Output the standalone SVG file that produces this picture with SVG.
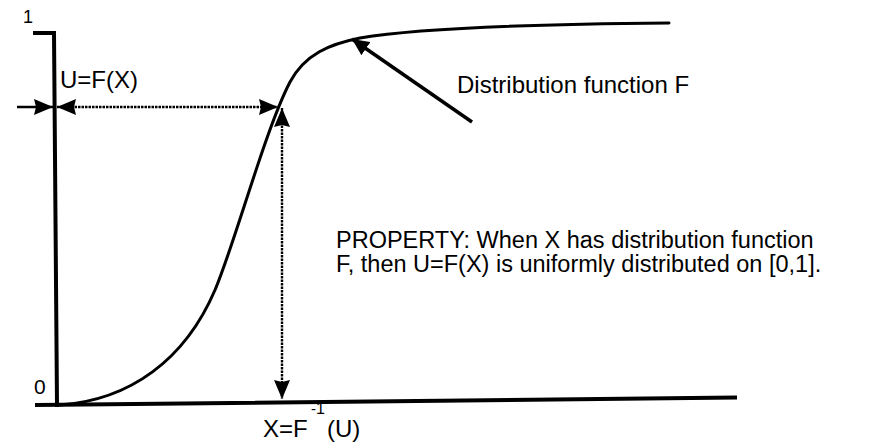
<svg xmlns="http://www.w3.org/2000/svg" width="869" height="446" viewBox="0 0 869 446">
<style>
text{font-family:"Liberation Sans",Arial,sans-serif;fill:#000}
.lbl{font-size:24px}
.axis{stroke:#000;stroke-width:4;fill:none;stroke-linecap:square}
.curve{stroke:#000;stroke-width:3;fill:none;stroke-linecap:round}
.dot{stroke:#000;stroke-width:2.4;fill:none;stroke-dasharray:2.5 1}
.solid{stroke:#000;stroke-width:2.5;fill:none}
.ptr{stroke:#000;stroke-width:3.5;fill:none}
</style>
<defs>
<marker id="ah" markerUnits="userSpaceOnUse" markerWidth="20" markerHeight="16" refX="19" refY="8" orient="auto-start-reverse">
<path d="M0,0 L19,8 L0,16 L2,8 z" fill="#000"/>
</marker>
<marker id="ahp" markerUnits="userSpaceOnUse" markerWidth="18" markerHeight="16" refX="17" refY="8" orient="auto">
<path d="M0,0 L17,8 L0,16 z" fill="#000"/>
</marker>
</defs>
<g id="axes">
<path class="axis" d="M35,33 L54,33 L57,405"/>
<path class="axis" d="M37,405 L735,397.5"/>
<text x="23" y="23" style="font-size:18px">1</text>
<text x="34" y="394" style="font-size:21px">0</text>
</g>
<g id="curve">
<path class="curve" d="M60,405 C130,400 185,360 215,290 C235,243 265,130 290,82 C305,54 330,44 360,38 C420,28 550,24 669,23"/>
</g>
<g id="connectors">
<line class="solid" x1="17" y1="107" x2="53" y2="107" marker-end="url(#ah)"/>
<line class="dot" x1="57" y1="107" x2="278" y2="107" marker-start="url(#ah)" marker-end="url(#ah)"/>
<line class="dot" x1="282" y1="108" x2="282" y2="399" marker-start="url(#ah)" marker-end="url(#ah)"/>
<line class="ptr" x1="472" y1="122" x2="352" y2="39" marker-end="url(#ahp)"/>
</g>
<g id="label-uf">
<text class="lbl" x="60" y="88">U=F(X)</text>
</g>
<g id="label-dist">
<text class="lbl" x="457" y="93">Distribution function F</text>
</g>
<g id="label-property">
<text class="lbl" x="336" y="248" style="font-size:23.5px">PROPERTY: When X has distribution function</text>
<text class="lbl" x="336" y="272" style="font-size:23.5px">F, then U=F(X) is uniformly distributed on [0,1].</text>
</g>
<g id="label-x">
<text class="lbl" x="263" y="437">X=F<tspan x="311" y="414" style="font-size:15px">-</tspan><tspan x="316" y="414" style="font-size:16px">1</tspan><tspan x="327" y="437">(U)</tspan></text>
</g>
</svg>
